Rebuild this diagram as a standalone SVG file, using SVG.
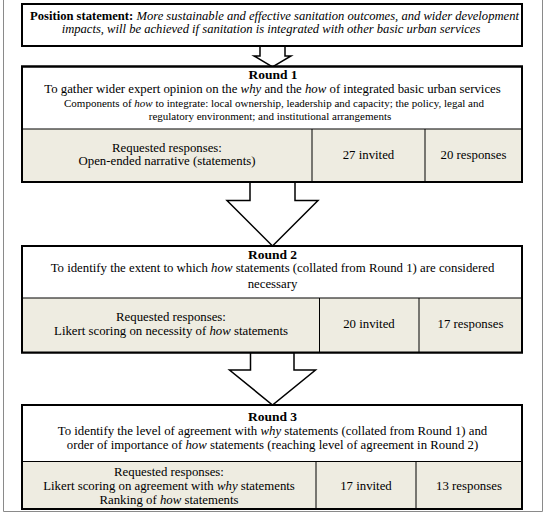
<svg xmlns="http://www.w3.org/2000/svg" width="550" height="516" viewBox="0 0 550 516">
<style>
  text { font-family: "Liberation Serif", "Times New Roman", serif; fill: #000; text-anchor: middle; }
  .t12 { font-size: 12.8px; }
  .tp { font-size: 12.6px; }
  .t11 { font-size: 11px; }
  .h { font-size: 13.5px; font-weight: bold; }
  .b { font-weight: bold; }
  .i { font-style: italic; }
  .box { fill: #fff; stroke: #000; stroke-width: 2; }
  .grey { fill: #EEECE1; stroke: #000; stroke-width: 1; }
  .div { stroke: #000; stroke-width: 1; fill: none; }
  .arrow { fill: #fff; stroke: #000; stroke-width: 1.5; stroke-linejoin: miter; }
  .frame { fill: none; stroke: #8a8a8a; stroke-width: 1; }
</style>
<rect x="0" y="0" width="550" height="516" fill="#fff"/>
<path class="frame" d="M3.5,0 V511.5 H542.5 V0"/>

<g id="connectors">
  <path class="arrow" d="M260,46 V56 H254 L272.5,67 L291,56 H285 V46 Z"/>
  <path class="arrow" d="M250,182 V200.5 H227 L272.5,246 L318,200.5 H295 V182 Z"/>
  <path class="arrow" d="M250.5,352.5 V370 H229.5 L272.5,405 L315.5,370 H294 V352.5 Z"/>
</g>

<g id="position">
  <rect class="box" x="22" y="4" width="500" height="42"/>
  <text class="tp" x="274.5" y="19.5"><tspan class="b">Position statement:</tspan> <tspan class="i">More sustainable and effective sanitation outcomes, and wider development</tspan></text>
  <text class="tp i" x="271" y="32.5">impacts, will be achieved if sanitation is integrated with other basic urban services</text>
</g>

<g id="round1">
  <rect class="box" x="22" y="66.5" width="500" height="115.5"/>
  <rect class="grey" x="22" y="129" width="500" height="53"/>
  <line class="div" x1="312" y1="129" x2="312" y2="182"/>
  <line class="div" x1="425" y1="129" x2="425" y2="182"/>
  <rect x="22" y="66.5" width="500" height="115.5" fill="none" stroke="#000" stroke-width="2"/>
  <text class="h" x="273" y="79">Round 1</text>
  <text class="t12" x="272.5" y="93">To gather wider expert opinion on the <tspan class="i">why</tspan> and the <tspan class="i">how</tspan> of integrated basic urban services</text>
  <text class="t11" x="274" y="107">Components of <tspan class="i">how</tspan> to integrate: local ownership, leadership and capacity; the policy, legal and</text>
  <text class="t11" x="270" y="119.5">regulatory environment; and institutional arrangements</text>
  <text class="t12" x="167" y="151.5">Requested responses:</text>
  <text class="t12" x="167" y="165">Open-ended narrative (statements)</text>
  <text class="t12" x="368.5" y="158.5">27 invited</text>
  <text class="t12" x="473.5" y="158.5">20 responses</text>
</g>

<g id="round2">
  <rect class="box" x="22" y="246" width="500" height="106.5"/>
  <rect class="grey" x="22" y="298" width="500" height="54.5"/>
  <line class="div" x1="319.5" y1="298" x2="319.5" y2="352.5"/>
  <line class="div" x1="419" y1="298" x2="419" y2="352.5"/>
  <rect x="22" y="246" width="500" height="106.5" fill="none" stroke="#000" stroke-width="2"/>
  <text class="h" x="272.5" y="258.5">Round 2</text>
  <text class="t12" x="272.5" y="272">To identify the extent to which <tspan class="i">how</tspan> statements (collated from Round 1) are considered</text>
  <text class="t12" x="272.5" y="287.5">necessary</text>
  <text class="t12" x="171" y="321">Requested responses:</text>
  <text class="t12" x="171" y="334.5">Likert scoring on necessity of <tspan class="i">how</tspan> statements</text>
  <text class="t12" x="369" y="328">20 invited</text>
  <text class="t12" x="470.5" y="328">17 responses</text>
</g>

<g id="round3">
  <rect class="box" x="22" y="405" width="500" height="104"/>
  <rect class="grey" x="22" y="461.5" width="500" height="47.5"/>
  <line class="div" x1="316" y1="461.5" x2="316" y2="509"/>
  <line class="div" x1="416" y1="461.5" x2="416" y2="509"/>
  <rect x="22" y="405" width="500" height="104" fill="none" stroke="#000" stroke-width="2"/>
  <text class="h" x="272.5" y="421">Round 3</text>
  <text class="t12" x="272.5" y="435">To identify the level of agreement with <tspan class="i">why</tspan> statements (collated from Round 1) and</text>
  <text class="t12" x="272.5" y="448.5">order of importance of <tspan class="i">how</tspan> statements (reaching level of agreement in Round 2)</text>
  <text class="t12" x="169" y="476">Requested responses:</text>
  <text class="t12" x="169" y="490">Likert scoring on agreement with <tspan class="i">why</tspan> statements</text>
  <text class="t12" x="169" y="504">Ranking of <tspan class="i">how</tspan> statements</text>
  <text class="t12" x="366" y="490">17 invited</text>
  <text class="t12" x="469" y="490">13 responses</text>
</g>
</svg>
